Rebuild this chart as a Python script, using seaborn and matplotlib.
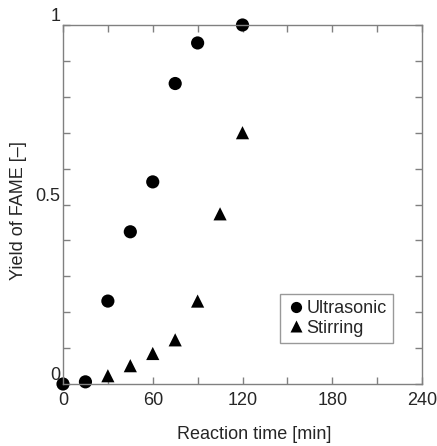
import matplotlib
matplotlib.use("Agg")
import matplotlib.pyplot as plt
from matplotlib.ticker import MultipleLocator
import seaborn as sns
import pandas as pd

time_ultra = [0, 15, 30, 45, 60, 75, 90, 120]
yield_ultra = [0.0, 0.006, 0.231, 0.424, 0.563, 0.837, 0.95, 1.0]
time_stir = [30, 45, 60, 75, 90, 105, 120]
yield_stir = [0.023, 0.051, 0.085, 0.123, 0.231, 0.474, 0.70]
x_ticks = [0, 60, 120, 180, 240]
y_ticks = [0, 0.5, 1]
y_tick_labels = ["0", "0.5", "1"]

df = pd.concat([
    pd.DataFrame({"time": time_ultra, "yield": yield_ultra, "method": "Ultrasonic"}),
    pd.DataFrame({"time": time_stir, "yield": yield_stir, "method": "Stirring"}),
])

sns.set_style("ticks")
plt.rcParams["font.family"] = ["Liberation Sans", "DejaVu Sans"]

fig = plt.figure(figsize=(4.37, 4.46), dpi=100)
ax = fig.add_axes([63 / 437, 1 - 384 / 446, 359 / 437, 359 / 446])

sns.scatterplot(data=df, x="time", y="yield", style="method",
                markers={"Ultrasonic": "o", "Stirring": "^"},
                color="black", s=90, edgecolor="none", ax=ax, clip_on=False)

ax.set_xlim(0, 240)
ax.set_ylim(0, 1)
ax.set_xticks(x_ticks)
ax.set_xticklabels([str(t) for t in x_ticks])
ax.xaxis.set_minor_locator(MultipleLocator(30))
ax.set_yticks(y_ticks)
ax.set_yticklabels(y_tick_labels, va="bottom")
ax.yaxis.set_minor_locator(MultipleLocator(0.1))

for s in ax.spines.values():
    s.set_color("#808080")
    s.set_linewidth(1.0)
ax.tick_params(which="both", direction="in", top=True, right=True,
               color="#808080", labelsize=13, width=1.0, length=5)
ax.tick_params(axis="x", pad=6)
ax.tick_params(axis="y", pad=2)

ax.set_xlabel("Reaction time [min]", fontsize=13, va="center", ha="center")
ax.xaxis.set_label_coords(0.532, -0.142)
ax.set_ylabel("Yield of FAME [\u2013]", fontsize=13, va="center", ha="center")
ax.yaxis.set_label_coords(-0.125, 0.482)

leg = ax.legend(loc="lower right", bbox_to_anchor=(0.919, 0.114),
                frameon=True, fancybox=False, fontsize=13, handletextpad=0.1,
                borderpad=0.35, labelspacing=0.15, handlelength=1.0,
                markerscale=0.85, borderaxespad=0)
leg.get_frame().set_edgecolor("#808080")
leg.get_frame().set_linewidth(1.0)

fig.savefig("out.png", dpi=100)
